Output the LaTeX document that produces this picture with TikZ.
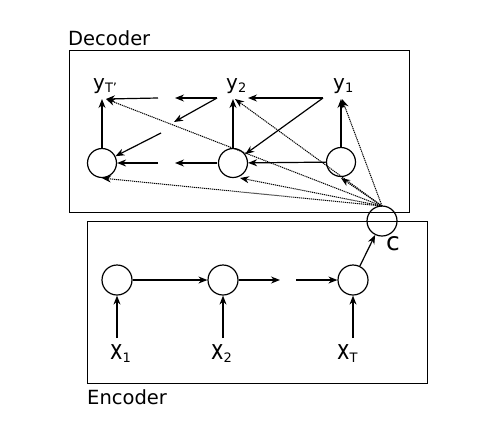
\documentclass[tikz,border=0pt]{standalone}
\usepackage{fontspec}
\setmainfont{DejaVu Sans}
\usetikzlibrary{arrows.meta}
\tikzset{
  cell/.style={circle,draw,line width=1.2pt,minimum size=29pt,inner sep=0pt},
  arr/.style={line width=1.2pt,-{Stealth[length=9pt,width=7pt]}},
  dots/.style={line width=1pt,dash pattern=on 1.2pt off 0.8pt,-{Stealth[length=9pt,width=7pt]}},
  frame/.style={draw,line width=1.2pt},
  title/.style={font=\fontsize{19.5}{20}\selectfont,inner sep=0pt,anchor=base west},
  lab/.style={inner sep=0pt,anchor=base west}
}
\newcommand{\ylab}[2]{{\fontsize{20}{20}\selectfont #1}\raisebox{-3pt}{\fontsize{13}{13}\selectfont #2}}
\newcommand{\xlab}[2]{\scalebox{1}[1.3]{\fontsize{21}{21}\selectfont #1}\raisebox{-3pt}{\fontsize{13}{13}\selectfont #2}}
\begin{document}
\begin{tikzpicture}[x=1pt,y=-1pt]
\useasboundingbox (0,0) rectangle (497,421);
% boxes
\node[frame,minimum width=340pt,minimum height=162pt,anchor=north west,inner sep=0pt] (dec) at (69,50) {};
\node[frame,minimum width=340pt,minimum height=162pt,anchor=north west,inner sep=0pt] (enc) at (87,221) {};
\node[title] (dectitle) at (68,45) {Decoder};
\node[title] (enctitle) at (87,404) {Encoder};
% decoder cells
\node[cell] (dT) at (102,163) {};
\node[cell] (d2) at (233,163) {};
\node[cell] (d1) at (341,162) {};
\node[lab] (yT) at (93,89) {\ylab{y}{T\symbol{39}}};
\node[lab] (y2) at (226,89) {\ylab{y}{2}};
\node[lab] (y1) at (333,89) {\ylab{y}{1}};
\coordinate (yTa) at (106,99);
\coordinate (y2a) at (235,99);
\coordinate (y1a) at (342,99);
% encoder cells
\node[cell,minimum size=30pt] (e1) at (117,280) {};
\node[cell,minimum size=30pt] (e2) at (223,280) {};
\node[cell,minimum size=30pt] (eT) at (353,280) {};
\node[cell,minimum size=30pt] (c) at (382,221) {};
\node[lab] (x1) at (110,359) {\xlab{x}{1}};
\node[lab] (x2) at (211,359) {\xlab{x}{2}};
\node[lab] (xT) at (337,359) {\xlab{x}{T}};
\node[lab] (clab) at (386,250) {\fontsize{25}{25}\selectfont c};
\coordinate (x1t) at (117,338);
\coordinate (x2t) at (223,338);
\coordinate (xTt) at (353,338);
% free ends
\coordinate (a1) at (323,98);
\coordinate (a2) at (217,98);
\coordinate (a3) at (175,98);
\coordinate (a4) at (158,98);
\coordinate (b1) at (217,163);
\coordinate (b2) at (175,163);
\coordinate (b3) at (158,163);
\coordinate (m1) at (174,122);
\coordinate (m2) at (161,133);
\coordinate (g1) at (280,280);
\coordinate (g2) at (296,280);
\coordinate (co) at (382,206);
% decoder arrows
\draw[arr] (dT) -- (dT |- yTa);
\draw[arr] (d2) -- (d2 |- y2a);
\draw[arr] (d1) -- (d1 |- y1a);
\draw[arr] (a1) -- (248,98);
\draw[arr] (a2) -- (a3);
\draw[arr] (a4) -- (yTa);
\draw[arr] (a1) -- (d2);
\draw[arr] (a2) -- (m1);
\draw[arr] (m2) -- (dT);
\draw[arr] (d1) -- (d2);
\draw[arr] (b1) -- (b2);
\draw[arr] (b3) -- (dT);
% dotted attention lines
\draw[dots] (co) -- (yTa);
\draw[dots] (co) -- (y2a);
\draw[dots] (co) -- (y1a);
\draw[dots] (co) -- (dT.south);
\draw[dots] (co) -- (240,178);
\draw[dots] (co) -- (341,178);
% encoder arrows
\draw[arr] (x1t) -- (e1);
\draw[arr] (x2t) -- (e2);
\draw[arr] (xTt) -- (eT);
\draw[arr] (e1) -- (e2);
\draw[arr] (e2) -- (g1);
\draw[arr] (g2) -- (eT);
\draw[arr] (eT) -- (c);
\end{tikzpicture}
\end{document}
